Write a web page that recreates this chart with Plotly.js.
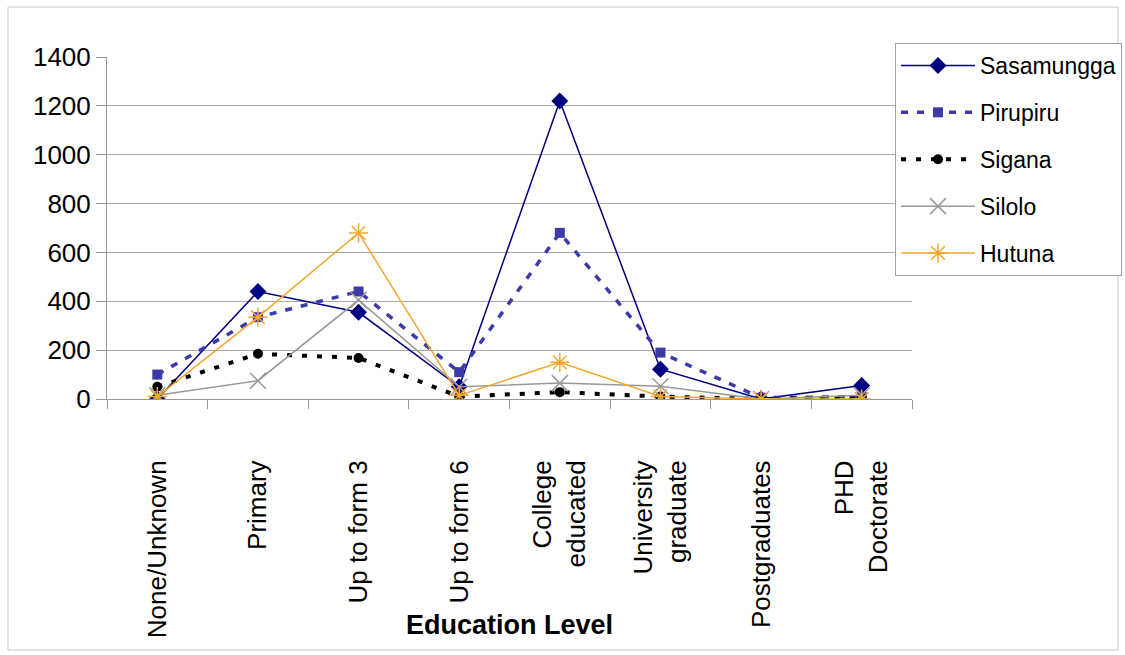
<!DOCTYPE html>
<html>
<head>
<meta charset="utf-8">
<script src="https://cdn.plot.ly/plotly-3.0.1.min.js"></script>
<style>
  html, body { margin: 0; padding: 0; background: #fff; }
  #chart { width: 1125px; height: 655px; }
</style>
</head>
<body>
<div id="chart"></div>
<script>
// Education level counts per village
const categories = ["None/Unknown", "Primary", "Up to form 3", "Up to form 6",
  "College educated", "University graduate", "Postgraduates", "PHD Doctorate"];
const tickLabels = ["None/Unknown", "Primary", "Up to form 3", "Up to form 6",
  "College<br>educated", "University<br>graduate", "Postgraduates", "PHD<br>Doctorate"];

const sasamungga = [0, 440, 355, 50, 1220, 122, 0, 55];
const pirupiru   = [100, 335, 440, 110, 680, 190, 5, 10];
const sigana     = [50, 185, 168, 10, 28, 10, 0, 5];
const silolo     = [15, 75, 405, 50, 65, 52, 0, 15];
const hutuna     = [10, 335, 680, 15, 150, 10, 0, 0];

const FONT = '"Liberation Sans", Arial, sans-serif';

function series(name, y, color, width, dash, symbol, size, open, group) {
  return {
    type: 'scatter', mode: 'lines+markers', name: name, legendgroup: group,
    x: categories, y: y,
    line: { color: color, width: width, dash: dash },
    marker: open
      ? { symbol: symbol, size: size, color: color, line: { color: color, width: 1.5 } }
      : { symbol: symbol, size: size, color: color, line: { width: 0 } }
  };
}

const traces = [
  series('Sasamungga', sasamungga, '#000080', 1.5, 'solid', 'diamond', 13, false, 'a'),
  series('Pirupiru', pirupiru, '#3a3aa8', 3.5, '7px,9px', 'square', 10, false, 'b'),
  series('Sigana', sigana, '#000000', 4, '5px,10px', 'circle', 10, false, 'c'),
  series('Silolo', silolo, '#999999', 1.5, 'solid', 'x-thin-open', 16, true, 'd'),
  series('Hutuna', hutuna, '#f2a830', 1.5, 'solid', 'asterisk-open', 16, true, 'e')
];

const layout = {
  width: 1125, height: 655,
  margin: { l: 107, r: 213, t: 57, b: 256, autoexpand: false },
  paper_bgcolor: '#ffffff', plot_bgcolor: '#ffffff',
  font: { family: FONT, color: '#000', size: 26 },
  showlegend: true,
  legend: {
    xref: 'paper', yref: 'paper',
    x: 0.9789, y: 1.041, xanchor: 'left', yanchor: 'top',
    bgcolor: '#ffffff', bordercolor: '#a0a0a0', borderwidth: 1,
    font: { family: FONT, size: 23, color: '#000' },
    itemwidth: 74, tracegroupgap: 14, traceorder: 'grouped'
  },
  xaxis: {
    type: 'category', categoryorder: 'array', categoryarray: categories,
    tickvals: categories, ticktext: tickLabels,
    range: [-0.5, 7.5],
    tickangle: -90, ticklabelstandoff: 50,
    tickfont: { family: FONT, size: 26, color: '#000' },
    ticks: 'outside', tickson: 'boundaries', ticklen: 9, tickcolor: '#999', tickwidth: 1,
    showline: true, linecolor: '#999', linewidth: 1,
    showgrid: false, zeroline: false, fixedrange: true, automargin: false
  },
  yaxis: {
    range: [0, 1400], dtick: 200, tick0: 0,
    tickfont: { family: FONT, size: 26, color: '#000' },
    ticks: 'outside', ticklen: 10, tickcolor: '#999', tickwidth: 1,
    showline: true, linecolor: '#999', linewidth: 1,
    showgrid: true, gridcolor: '#a8a8a8', gridwidth: 1,
    zeroline: false, fixedrange: true, automargin: false
  },
  shapes: [{
    type: 'rect', xref: 'paper', yref: 'paper',
    x0: -0.123, x1: 1.2559, y0: -0.734, y1: 1.146,
    line: { color: '#c8c8c8', width: 1 }, fillcolor: 'rgba(0,0,0,0)', layer: 'below'
  }],
  annotations: [{
    text: '<b>Education Level</b>', xref: 'paper', yref: 'paper',
    x: 0.5006, y: -0.661, xanchor: 'center', yanchor: 'middle', showarrow: false,
    font: { family: FONT, size: 27, color: '#000' }
  }]
};

Plotly.newPlot('chart', traces, layout, { displayModeBar: false, staticPlot: true });
</script>
</body>
</html>
